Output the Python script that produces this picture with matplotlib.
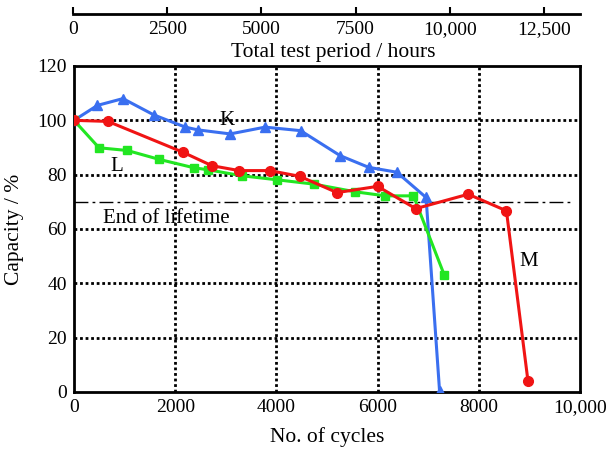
import matplotlib
matplotlib.use("Agg")
import matplotlib.pyplot as plt

# Cycle-life test data: capacity retention vs. number of cycles
k_cycles = [0, 463, 967, 1577, 2200, 2443, 3087, 3776, 4478, 5260, 5823, 6380, 6958, 7224]
k_capacity = [100, 105.5, 108, 102, 97.5, 96.5, 95, 97.5, 96.2, 87, 82.7, 80.9, 71.6, 0.5]

l_cycles = [0, 494, 1053, 1689, 2378, 2650, 3317, 4018, 4750, 5554, 6152, 6709, 7319]
l_capacity = [100, 89.9, 88.9, 85.6, 82.5, 81.8, 79.6, 78.1, 76.5, 73.7, 72.2, 72.2, 43]

m_cycles = [0, 672, 2148, 2726, 3264, 3868, 4459, 5199, 6000, 6754, 7791, 8546, 8972]
m_capacity = [100, 99.6, 88.3, 83.3, 81.5, 81.5, 79.4, 73.4, 75.7, 67.5, 72.8, 66.7, 4]

end_of_life = 70
x_ticks = [0, 2000, 4000, 6000, 8000, 10000]
x_tick_labels = ["0", "2000", "4000", "6000", "8000", "10,000"]
y_ticks = [0, 20, 40, 60, 80, 100, 120]
hour_ticks = [0, 2500, 5000, 7500, 10000, 12500]
hour_tick_labels = ["0", "2500", "5000", "7500", "10,000", "12,500"]
hours_max = 13460

plt.rcParams["font.family"] = ["Liberation Serif", "DejaVu Serif"]

fig = plt.figure(figsize=(6.08, 4.5), dpi=100)
ax = fig.add_axes([74 / 608, 1 - 392 / 450, (580 - 74) / 608, (392 - 66) / 450])

blue = "#3a6ff0"
red = "#f01414"
green = "#22e622"

# dotted grid
for gx in x_ticks[1:-1]:
    ax.axvline(gx, color="black", linestyle=(0, (1, 1)), linewidth=2, zorder=1)
for gy in y_ticks[1:-1]:
    ax.axhline(gy, color="black", linestyle=(0, (1, 1)), linewidth=2, zorder=1)

ax.plot([0, 9850], [end_of_life, end_of_life], color="black", linewidth=1,
        linestyle=(0, (10, 3, 2, 3)), zorder=2)

ax.plot(k_cycles, k_capacity, color=blue, linewidth=2.2, marker="^", markersize=7, zorder=3)
ax.plot(l_cycles, l_capacity, color=green, linewidth=2.2, marker="s", markersize=6, zorder=3)
ax.plot(m_cycles, m_capacity, color=red, linewidth=2.2, marker="o", markersize=7, zorder=4)

ax.text(3030, 100, "K", fontsize=15, ha="center", va="center")
ax.text(836, 83, "L", fontsize=15, ha="center", va="center")
ax.text(8980, 48, "M", fontsize=15, ha="center", va="center")
ax.text(570, 64, "End of lifetime", fontsize=15, ha="left", va="center")

ax.set_xlim(0, 10000)
ax.set_ylim(0, 120)
ax.set_xticks(x_ticks)
ax.set_xticklabels(x_tick_labels)
ax.set_yticks(y_ticks)
ax.tick_params(axis="both", labelsize=14, length=0, pad=5)
for spine in ax.spines.values():
    spine.set_linewidth(2)
ax.set_xlabel("No. of cycles", fontsize=15.5, labelpad=8)
ax.set_ylabel("Capacity / %", fontsize=15.5, labelpad=10)

# secondary time axis drawn as a bare line above the plot
ax_top = fig.add_axes([73 / 608, 1 - 14 / 450, (580 - 73) / 608, 0.0001])
ax_top.set_xlim(0, hours_max)
ax_top.set_yticks([])
ax_top.set_xticks(hour_ticks)
ax_top.set_xticklabels(hour_tick_labels)
ax_top.tick_params(axis="x", direction="in", length=5, width=1.5, labelsize=14, pad=5)
for side in ("top", "left", "right"):
    ax_top.spines[side].set_visible(False)
ax_top.spines["bottom"].set_linewidth(2)
fig.text(333 / 608, 1 - 52 / 450, "Total test period / hours", fontsize=15.5,
         ha="center", va="center")

fig.savefig("out.png", dpi=100)
